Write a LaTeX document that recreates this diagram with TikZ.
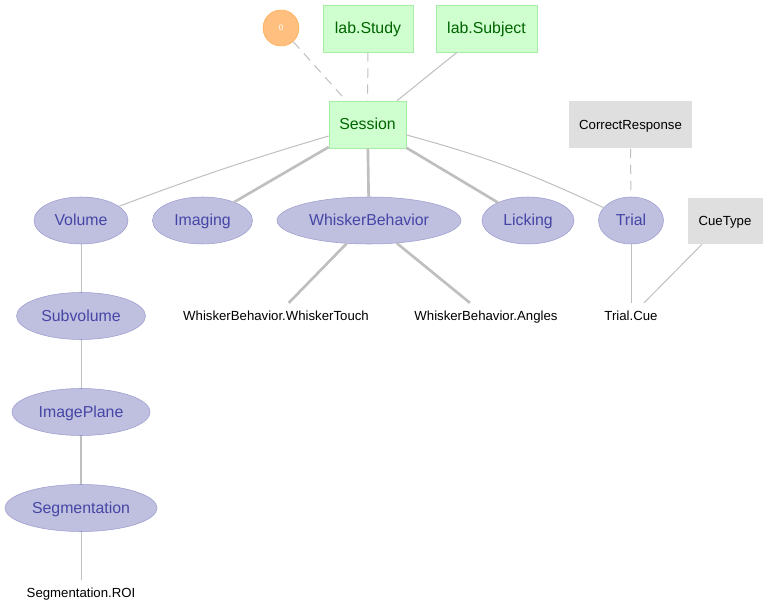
\documentclass[tikz,border=0pt]{standalone}
\usepackage{fontspec}
\setmainfont{Liberation Sans}
\usetikzlibrary{shapes.geometric}
\definecolor{manfill}{HTML}{CFFFCF}
\definecolor{mandraw}{HTML}{A6F0A6}
\definecolor{mantext}{HTML}{006400}
\definecolor{impfill}{HTML}{BFBFDF}
\definecolor{impdraw}{HTML}{9C9CD0}
\definecolor{imptext}{HTML}{4646A6}
\definecolor{lookfill}{HTML}{DFDFDF}
\definecolor{edgegray}{HTML}{BFBFBF}
\definecolor{orfill}{HTML}{FFC07F}
\definecolor{ordraw}{HTML}{FFA94F}
\begin{document}
\begin{tikzpicture}[x=0.75pt, y=-0.75pt,
  manual/.style={shape=rectangle, draw=mandraw, fill=manfill, text=mantext, font=\fontsize{11.9}{14}\selectfont, minimum height=35.25pt, inner sep=0pt, text height=9.4pt, text depth=1.8pt},
  imported/.style={shape=ellipse, draw=impdraw, fill=impfill, text=imptext, font=\fontsize{11.9}{14}\selectfont, minimum height=35.25pt, inner sep=0pt, text height=9.4pt, text depth=1.8pt},
  lookup/.style={shape=rectangle, fill=lookfill, font=\fontsize{9.9}{12}\selectfont, minimum height=35.25pt, inner sep=0pt, text height=7.8pt, text depth=1.5pt},
  part/.style={shape=rectangle, font=\fontsize{9.9}{12}\selectfont, inner sep=5pt, text height=7.8pt, text depth=1.5pt},
  thinedge/.style={draw=edgegray, line width=0.75pt},
  thickedge/.style={draw=edgegray, line width=2pt},
  dashedge/.style={draw=edgegray, line width=0.75pt, dash pattern=on 7pt off 5pt}]
\useasboundingbox (0,0) rectangle (769,613);
\node[shape=circle, draw=ordraw, fill=orfill, text=white, minimum size=27pt, inner sep=0pt, font=\fontsize{6}{7}\selectfont] (N0) at (281, 28) {0};
\node[manual, minimum width=67.5pt] (Study) at (368, 28.5) {lab.Study};
\node[manual, minimum width=75.75pt] (Subject) at (486.5, 28.5) {lab.Subject};
\node[manual, minimum width=57.75pt] (Session) at (367.5, 124.5) {Session};
\node[lookup, minimum width=92.25pt] (CorrectResponse) at (630.5, 125) {CorrectResponse};
\node[lookup, minimum width=56.25pt, minimum height=34.5pt] (CueType) at (725, 221) {CueType};
\node[imported, minimum width=70.5pt] (Volume) at (81, 220.5) {Volume};
\node[imported, minimum width=75pt] (Imaging) at (202.5, 220.5) {Imaging};
\node[imported, minimum width=138pt] (WhiskerBehavior) at (369, 220.5) {WhiskerBehavior};
\node[imported, minimum width=69pt] (Licking) at (528, 220.5) {Licking};
\node[imported, minimum width=48.75pt] (Trial) at (631, 220.5) {Trial};
\node[imported, minimum width=96.75pt] (Subvolume) at (81, 316) {Subvolume};
\node[imported, minimum width=103.5pt] (ImagePlane) at (81, 412) {ImagePlane};
\node[imported, minimum width=114pt] (Segmentation) at (81, 508) {Segmentation};
\node[part] (WhiskerTouch) at (276, 316) {WhiskerBehavior.WhiskerTouch};
\node[part] (Angles) at (486, 316) {WhiskerBehavior.Angles};
\node[part] (Cue) at (631, 316) {Trial.Cue};
\node[part] (ROI) at (81, 593) {Segmentation.ROI};
\draw[dashedge] (N0) -- (Session);
\draw[dashedge] (Study) -- (Session);
\draw[thinedge] (Subject) -- (Session);
\draw[thinedge] (Session) to[bend right=2] (Volume);
\draw[thickedge] (Session) -- (Imaging);
\draw[thickedge] (Session) -- (WhiskerBehavior);
\draw[thickedge] (Session) -- (Licking);
\draw[thinedge] (Session) to[bend left=5] (Trial);
\draw[dashedge] (CorrectResponse) -- (Trial);
\draw[thickedge] (WhiskerBehavior) -- (WhiskerTouch);
\draw[thickedge] (WhiskerBehavior) -- (Angles);
\draw[thinedge] (Trial) -- (Cue);
\draw[thinedge] (CueType) -- (Cue);
\draw[thinedge] (Volume) -- (Subvolume);
\draw[thinedge] (Subvolume) -- (ImagePlane);
\draw[thickedge] (ImagePlane) -- (Segmentation);
\draw[thinedge] (Segmentation) -- (ROI);
\end{tikzpicture}
\end{document}
